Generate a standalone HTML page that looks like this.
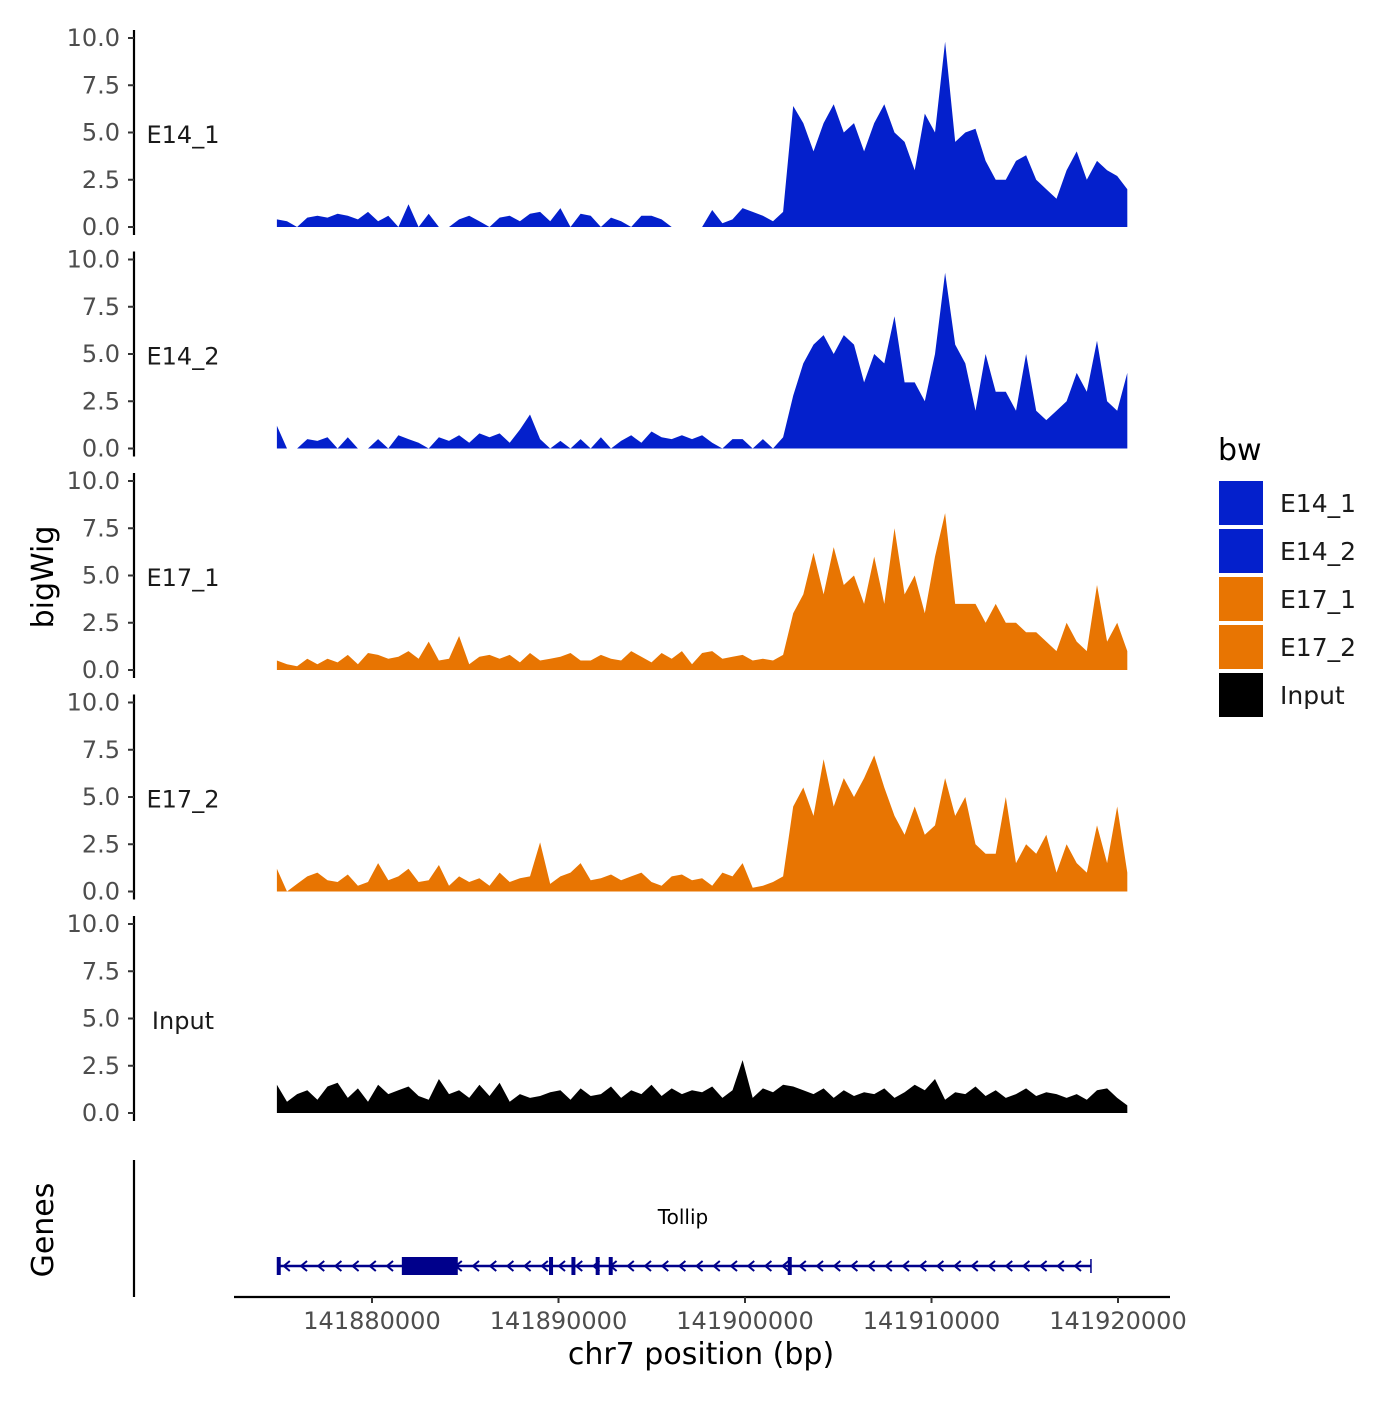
<!DOCTYPE html>
<html><head><meta charset="utf-8"><style>
body{margin:0;background:#fff;}
svg text{font-family:"DejaVu Sans","Liberation Sans",sans-serif;}
</style></head><body>
<svg id="chart" width="1400" height="1400" viewBox="0 0 1400 1400" xmlns="http://www.w3.org/2000/svg">
<g id="panels"></g>
<g id="genes"></g>
<g id="legend"></g>
</svg>
<script>
const panelNames = ["E14_1","E14_2","E17_1","E17_2","Input"];
const panelColors = ["#0420CC","#0420CC","#E87502","#E87502","#000000"];
const yTicks = [0,2.5,5,7.5,10];
const yTickLabels = ["0.0","2.5","5.0","7.5","10.0"];
const xTicks = [141880000,141890000,141900000,141910000,141920000];
const xTickLabels = ["141880000","141890000","141900000","141910000","141920000"];
const dataStart = 141874900, dataEnd = 141920500;
const e14_1 = [0.4,0.3,0,0.5,0.6,0.5,0.7,0.6,0.4,0.8,0.3,0.6,0,1.2,0,0.7,0,0,0.4,0.6,0.3,0,0.5,0.6,0.3,0.7,0.8,0.3,1.0,0,0.7,0.6,0,0.5,0.3,0,0.6,0.6,0.4,0,0,0,0,0.9,0.2,0.4,1.0,0.8,0.6,0.3,0.8,
6.4,5.5,4.0,5.5,6.5,5.0,5.5,4.0,5.5,6.5,5.0,4.5,3.0,6.0,5.0,9.8,4.5,5.0,5.2,3.5,2.5,2.5,3.5,3.8,2.5,2.0,1.5,3.0,4.0,2.5,3.5,3.0,2.7,2.0];
const e14_2 = [1.2,0,0,0.5,0.4,0.6,0,0.6,0,0,0.5,0,0.7,0.5,0.3,0,0.6,0.4,0.7,0.3,0.8,0.6,0.8,0.3,1.0,1.8,0.5,0,0.4,0,0.5,0,0.6,0,0.4,0.7,0.3,0.9,0.6,0.5,0.7,0.5,0.7,0.3,0,0.5,0.5,0,0.5,0,0.6,
2.8,4.5,5.5,6.0,5.0,6.0,5.5,3.5,5.0,4.5,7.0,3.5,3.5,2.5,5.0,9.3,5.5,4.5,2.0,5.0,3.0,3.0,2.0,5.0,2.0,1.5,2.0,2.5,4.0,3.0,5.7,2.5,2.0,4.0];
const e17_1 = [0.5,0.3,0.2,0.6,0.3,0.6,0.4,0.8,0.3,0.9,0.8,0.6,0.7,1.0,0.6,1.5,0.5,0.6,1.8,0.3,0.7,0.8,0.6,0.8,0.4,0.9,0.5,0.6,0.7,0.9,0.5,0.5,0.8,0.6,0.5,1.0,0.7,0.4,0.9,0.6,1.0,0.3,0.9,1.0,0.6,0.7,0.8,0.5,0.6,0.5,0.8,
3.0,4.0,6.2,4.0,6.5,4.5,5.0,3.5,6.0,3.5,7.5,4.0,5.0,3.0,6.0,8.3,3.5,3.5,3.5,2.5,3.5,2.5,2.5,2.0,2.0,1.5,1.0,2.5,1.5,1.0,4.5,1.5,2.5,1.0];
const e17_2 = [1.2,0,0.4,0.8,1.0,0.6,0.5,0.9,0.3,0.5,1.5,0.6,0.8,1.2,0.5,0.6,1.4,0.3,0.8,0.5,0.7,0.3,1.0,0.5,0.7,0.8,2.6,0.4,0.8,1.0,1.5,0.6,0.7,0.9,0.6,0.8,1.0,0.5,0.3,0.8,0.9,0.6,0.7,0.3,1.0,0.8,1.5,0.2,0.3,0.5,0.8,
4.5,5.5,4.0,7.0,4.5,6.0,5.0,6.0,7.2,5.5,4.0,3.0,4.5,3.0,3.5,6.0,4.0,5.0,2.5,2.0,2.0,5.0,1.5,2.5,2.0,3.0,1.0,2.5,1.5,1.0,3.5,1.5,4.5,1.0];
const input = [1.5,0.6,1.0,1.2,0.7,1.4,1.6,0.8,1.3,0.6,1.5,1.0,1.2,1.4,0.9,0.7,1.8,1.0,1.2,0.8,1.5,0.9,1.6,0.6,1.0,0.8,0.9,1.1,1.2,0.7,1.3,0.9,1.0,1.4,0.8,1.2,1.0,1.5,0.9,1.3,1.0,1.2,1.1,1.4,0.8,1.2,2.8,0.8,1.3,1.1,1.5,1.4,1.2,1.0,1.3,0.8,1.2,0.9,1.1,1.0,1.3,0.8,1.1,1.5,1.2,1.8,0.7,1.1,1.0,1.4,0.9,1.2,0.8,1.0,1.3,0.9,1.1,1.0,0.8,1.0,0.7,1.2,1.3,0.8,0.4];
const series = [e14_1,e14_2,e17_1,e17_2,input];
const geneStart = 141874950, geneEnd = 141918550, cdsStart = 141881600, cdsEnd = 141884600;
const exons = [141875000,141889600,141890800,141892100,141892800,141902400];

const NS="http://www.w3.org/2000/svg";
function mk(tag,attrs,parent,text){const e=document.createElementNS(NS,tag);for(const k in attrs)e.setAttribute(k,attrs[k]);if(text!==undefined)e.textContent=text;parent.appendChild(e);return e;}
const xScale = v => 372 + (v-141880000)*(746/40000);
const panelZero = [227,448.5,670,891.5,1113];
const yPx = 18.9;

const gp = document.getElementById('panels');
series.forEach((vals,p)=>{
  const g = mk('g',{},gp);
  
  
  const y0 = panelZero[p];
  const yS = v => y0 - v*yPx;
  const n = vals.length, step=(dataEnd-dataStart)/(n-1);
  let d = 'M'+xScale(dataStart)+','+y0;
  vals.forEach((v,i)=>{d+=' L'+xScale(dataStart+i*step).toFixed(1)+','+yS(v).toFixed(1);});
  d += ' L'+xScale(dataEnd)+','+y0+' Z';
  const a = mk('path',{d:d,fill:panelColors[p]},g);
  
  
  const ax = mk('line',{x1:134,x2:134,y1:y0-197,y2:y0+8,stroke:'#000','stroke-width':2.2},g);
  
  
  yTicks.forEach((t,i)=>{
    mk('line',{x1:128,x2:134,y1:yS(t),y2:yS(t),stroke:'#333','stroke-width':2},g);
    const tl = mk('text',{x:120,y:yS(t)+8,'text-anchor':'end','font-size':24,fill:'#4d4d4d'},g,yTickLabels[i]);
    
    
  });
  const lb = mk('text',{x:183,y:y0-84,'text-anchor':'middle','font-size':24,fill:'#1a1a1a'},g,panelNames[p]);
  
  
});
const yt = mk('text',{x:0,y:0,transform:'translate(53,577) rotate(-90)','text-anchor':'middle','font-size':30},gp,'bigWig');



// genes
const gg = document.getElementById('genes');
const gt = mk('text',{x:0,y:0,transform:'translate(53,1230) rotate(-90)','text-anchor':'middle','font-size':30},gg,'Genes');


mk('line',{x1:134,x2:134,y1:1160,y2:1297,stroke:'#000','stroke-width':2.2},gg);
const gl = mk('line',{x1:xScale(geneStart),x2:xScale(geneEnd),y1:1266,y2:1266,stroke:'#00008B','stroke-width':2.5},gg);


for(let x=xScale(geneStart)+8;x<xScale(geneEnd)-4;x+=17.2){
  mk('path',{d:`M${x+4},1261 L${x-2},1266 L${x+4},1271`,fill:'none',stroke:'#00008B','stroke-width':2},gg);
}
exons.forEach(e=>mk('rect',{x:xScale(e)-2,y:1257,width:4,height:18,fill:'#00008B'},gg));
const cds = mk('rect',{x:xScale(cdsStart),y:1257,width:xScale(cdsEnd)-xScale(cdsStart),height:18,fill:'#00008B'},gg);


mk('line',{x1:xScale(geneEnd),x2:xScale(geneEnd),y1:1259,y2:1273,stroke:'#00008B','stroke-width':1.5},gg);
const gn = mk('text',{x:683,y:1224,'text-anchor':'middle','font-size':20},gg,'Tollip');


// x axis
mk('line',{x1:234,x2:1170,y1:1297,y2:1297,stroke:'#000','stroke-width':2.2},gg);
xTicks.forEach((t,i)=>{
  mk('line',{x1:xScale(t),x2:xScale(t),y1:1297,y2:1303,stroke:'#333','stroke-width':2},gg);
  const tl = mk('text',{x:xScale(t),y:1329,'text-anchor':'middle','font-size':24,fill:'#4d4d4d'},gg,xTickLabels[i]);
  
  
});
const xt = mk('text',{x:701,y:1364,'text-anchor':'middle','font-size':30},gg,'chr7 position (bp)');



// legend
const lg = document.getElementById('legend');
const ltitle = mk('text',{x:1218,y:460,'font-size':30},lg,'bw');


panelNames.forEach((n,i)=>{
  const e = mk('g',{},lg);
  
  
  mk('rect',{x:1219,y:481+48*i,width:44,height:44,fill:panelColors[i]},e);
  mk('text',{x:1280,y:512+48*i,'font-size':25,fill:'#1a1a1a'},e,n);
});
</script>
</body></html>
